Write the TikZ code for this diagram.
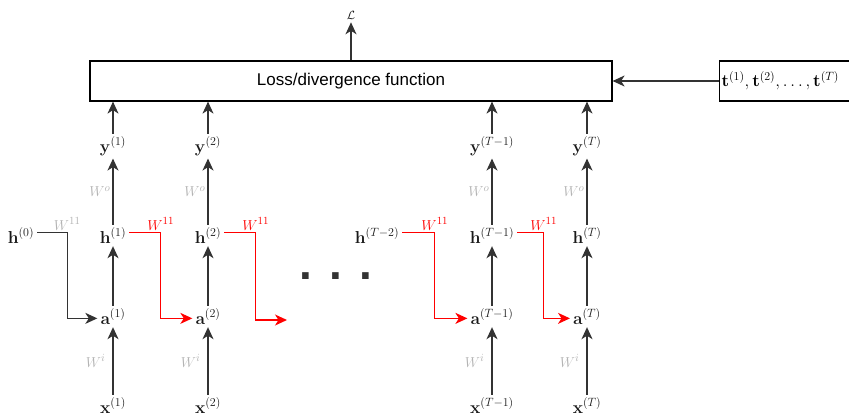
\documentclass[tikz,border=0pt]{standalone}
\usepackage[no-math]{fontspec}
\setsansfont{Liberation Sans}
\usepackage{amsmath,amssymb}
\usepackage{xcolor}
\usetikzlibrary{arrows.meta,positioning,calc}

\definecolor{ink}{HTML}{333333}
\definecolor{wgray}{HTML}{B3B3B3}
\definecolor{wred}{HTML}{FF0000}

\begin{document}
\begin{tikzpicture}[
    x=1pt, y=-1pt,
    var/.style={text=black!90, inner sep=3pt, anchor=base, font=\fontsize{17}{20}\selectfont},
    box/.style={rectangle, draw=black, line width=1.2pt, minimum height=40pt, font=\sffamily\fontsize{17}{20}\selectfont},
    arr/.style={draw=ink, line width=1.3pt, -{Stealth[length=12pt,width=11pt,inset=3.5pt]}},
    rarr/.style={arr, draw=wred},
    wlab/.style={text=wgray, inner sep=2pt, font=\fontsize{15}{18}\selectfont},
    rlab/.style={wlab, text=wred}
]
    \useasboundingbox (0,0) rectangle (849,420);

    % Loss box and targets
    \node[box, minimum width=522pt] (loss) at (351,81) {Loss/divergence function};
    \node[box, anchor=west, text width=134pt, inner xsep=2pt, align=left] (tgt) at (719,81) {$\mathbf{t}^{(1)},\mathbf{t}^{(2)},\ldots,\mathbf{t}^{(T)}$};
    \node[var, anchor=center, font=\fontsize{13}{15}\selectfont] (lossout) at (351,15) {$\mathcal{L}$};

    % Outputs
    \node[var] (y1) at (113,152) {$\mathbf{y}^{(1)}$};
    \node[var] (y2) at (208,152) {$\mathbf{y}^{(2)}$};
    \node[var] (y3) at (492,152) {$\mathbf{y}^{(T-1)}$};
    \node[var] (y4) at (587,152) {$\mathbf{y}^{(T)}$};

    % Hidden states
    \node[var] (h0) at (21,243) {$\mathbf{h}^{(0)}$};
    \node[var] (h1) at (113,243) {$\mathbf{h}^{(1)}$};
    \node[var] (h2) at (208,243) {$\mathbf{h}^{(2)}$};
    \node[var] (hT2) at (377,243) {$\mathbf{h}^{(T-2)}$};
    \node[var] (h3) at (492,243) {$\mathbf{h}^{(T-1)}$};
    \node[var] (h4) at (587,243) {$\mathbf{h}^{(T)}$};

    % Activations
    \node[var] (a1) at (113,324) {$\mathbf{a}^{(1)}$};
    \node[var] (a2) at (208,324) {$\mathbf{a}^{(2)}$};
    \node[var] (a3) at (492,324) {$\mathbf{a}^{(T-1)}$};
    \node[var] (a4) at (587,324) {$\mathbf{a}^{(T)}$};

    % Inputs
    \node[var] (x1) at (113,413) {$\mathbf{x}^{(1)}$};
    \node[var] (x2) at (208,413) {$\mathbf{x}^{(2)}$};
    \node[var] (x3) at (492,413) {$\mathbf{x}^{(T-1)}$};
    \node[var] (x4) at (587,413) {$\mathbf{x}^{(T)}$};

    \node[text=ink, anchor=base, inner sep=0pt, font=\sffamily\bfseries\fontsize{46}{46}\selectfont] (dots) at (336,279) {. . .};

    % Vertical connections
    \draw[arr] (x1) -- node[wlab, left, xshift=-5pt] {$W^i$} (a1);
    \draw[arr] (x2) -- node[wlab, left, xshift=-5pt] {$W^i$} (a2);
    \draw[arr] (x3) -- node[wlab, left, xshift=-5pt] {$W^i$} (a3);
    \draw[arr] (x4) -- node[wlab, left, xshift=-5pt] {$W^i$} (a4);
    \draw[arr] (a1) -- (h1);
    \draw[arr] (a2) -- (h2);
    \draw[arr] (a3) -- (h3);
    \draw[arr] (a4) -- (h4);
    \draw[arr] (h1) -- node[wlab, left] {$W^o$} (y1);
    \draw[arr] (h2) -- node[wlab, left] {$W^o$} (y2);
    \draw[arr] (h3) -- node[wlab, left] {$W^o$} (y3);
    \draw[arr] (h4) -- node[wlab, left] {$W^o$} (y4);
    \draw[arr] (y1) -- (y1 |- loss.south);
    \draw[arr] (y2) -- (y2 |- loss.south);
    \draw[arr] (y3) -- (y3 |- loss.south);
    \draw[arr] (y4) -- (y4 |- loss.south);
    \draw[arr] (loss.north) -- (lossout);
    \draw[arr] (tgt.west) -- (loss.east);

    % Recurrent connections
    \coordinate (e2) at (287,320);
    \coordinate (m0) at ($(h0.east)!0.5!(a1.west)$);
    \coordinate (m1) at ($(h1.east)!0.5!(a2.west)$);
    \coordinate (m2) at ($(h2.east)!0.5!(e2)$);
    \coordinate (m3) at ($(hT2.east)!0.5!(a3.west)$);
    \coordinate (m4) at ($(h3.east)!0.5!(a4.west)$);

    \draw[arr] ([yshift=3pt]h0.east) -| (m0) |- ([yshift=-2pt]a1.west);
    \draw[rarr] ([yshift=3pt]h1.east) -| (m1) |- ([yshift=-2pt]a2.west);
    \draw[rarr] ([yshift=3pt]h2.east) -| (m2) |- (e2);
    \draw[rarr] ([yshift=3pt]hT2.east) -| (m3) |- ([yshift=-2pt]a3.west);
    \draw[rarr] ([yshift=3pt]h3.east) -| (m4) |- ([yshift=-2pt]a4.west);

    \node[wlab, above=3pt] at (m0 |- h0.east) {$W^{11}$};
    \node[rlab, above=3pt] at (m1 |- h1.east) {$W^{11}$};
    \node[rlab, above=3pt] at (m2 |- h2.east) {$W^{11}$};
    \node[rlab, above=3pt] at (m3 |- hT2.east) {$W^{11}$};
    \node[rlab, above=3pt] at (m4 |- h3.east) {$W^{11}$};
\end{tikzpicture}
\end{document}
